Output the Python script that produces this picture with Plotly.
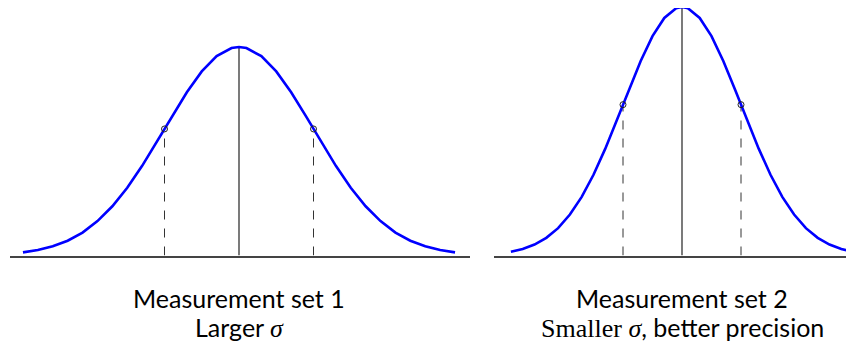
import plotly.graph_objects as go

# curve sample positions (in units of sigma) and relative heights (peak = 1)
x_sigma = [-2.9, -2.7, -2.5, -2.3, -2.1, -1.9, -1.7, -1.5, -1.3, -1.1, -0.9, -0.7, -0.5, -0.3, -0.1, 0.0,
           0.1, 0.3, 0.5, 0.7, 0.9, 1.1, 1.3, 1.5, 1.7, 1.9, 2.1, 2.3, 2.5, 2.7, 2.9]
height = [0.015, 0.026, 0.044, 0.071, 0.110, 0.165, 0.236, 0.325, 0.430, 0.546, 0.667, 0.783, 0.883, 0.956, 0.995, 1.0,
          0.995, 0.956, 0.883, 0.783, 0.667, 0.546, 0.430, 0.325, 0.236, 0.165, 0.110, 0.071, 0.044, 0.026, 0.015]

sigma_points = [-1.0, 1.0]
sigma_height = [0.607, 0.607]
mean_point = [0.0]
mean_height = [1.0]

titles_line1 = ["Measurement set 1", "Measurement set 2"]
titles_line2 = [
    "Larger <i style='font-family:Liberation Serif;font-size:26px'>σ</i>",
    "<span style='font-family:Liberation Serif;font-size:26px'>Smaller <i>σ</i></span>, better precision",
]

W, H = 854, 342
OFF = 8  # page body margin offset
base_px = 255.5 - OFF
panels = [
    dict(center=239 - OFF, sig=74.5, peak=208.5, x0=10 - OFF, x1=470 - OFF),
    dict(center=682 - OFF, sig=59.0, peak=248.5, x0=494 - OFF, x1=854 - OFF),
]

fig = go.Figure()
blue = "#0000ff"
gray = "#333333"
for i, p in enumerate(panels):
    xa = "x" if i == 0 else "x2"
    ya = "y" if i == 0 else "y2"
    fig.add_trace(go.Scatter(x=[mean_point[0], mean_point[0]], y=[0, mean_height[0]], mode="lines",
                             line=dict(color=gray, width=1.3), xaxis=xa, yaxis=ya, showlegend=False, hoverinfo="skip"))
    for sx, sh in zip(sigma_points, sigma_height):
        fig.add_trace(go.Scatter(x=[sx, sx], y=[0, sh], mode="lines",
                                 line=dict(color=gray, width=1, dash="dash"), xaxis=xa, yaxis=ya,
                                 showlegend=False, hoverinfo="skip"))
    fig.add_trace(go.Scatter(x=x_sigma, y=height, mode="lines", line=dict(color=blue, width=2.6),
                             xaxis=xa, yaxis=ya, showlegend=False))
    fig.add_trace(go.Scatter(x=sigma_points, y=sigma_height, mode="markers",
                             marker=dict(symbol="circle-open", size=6, color="#222222", line=dict(width=1)),
                             xaxis=xa, yaxis=ya, showlegend=False))

ydom = [(H - base_px) / H, 1.0]
layout = dict(
    width=W, height=H, margin=dict(l=0, r=0, t=0, b=0),
    paper_bgcolor="white", plot_bgcolor="white",
)
for i, p in enumerate(panels):
    xname = "xaxis" if i == 0 else "xaxis2"
    yname = "yaxis" if i == 0 else "yaxis2"
    layout[xname] = dict(
        domain=[max(p["x0"], 0) / W, min(p["x1"], W) / W],
        range=[(max(p["x0"], 0) - p["center"]) / p["sig"], (min(p["x1"], W) - p["center"]) / p["sig"]],
        showgrid=False, zeroline=False, showticklabels=False, ticks="",
        showline=True, linecolor="#444444", linewidth=1.5,
        anchor="y" if i == 0 else "y2",
    )
    layout[yname] = dict(
        domain=ydom, range=[0, base_px / p["peak"]],
        showgrid=False, zeroline=False, showticklabels=False, showline=False,
        anchor="x" if i == 0 else "x2",
    )
fig.update_layout(**layout)

font = dict(family="Lato, Open Sans, sans-serif", size=25, color="black")
for i, p in enumerate(panels):
    fig.add_annotation(x=p["center"] / W, y=(H - (298 - OFF)) / H, xref="paper", yref="paper",
                       text=titles_line1[i], showarrow=False, font=font, xanchor="center", yanchor="middle")
    fig.add_annotation(x=p["center"] / W, y=(H - (327 - OFF)) / H, xref="paper", yref="paper",
                       text=titles_line2[i], showarrow=False, font=font, xanchor="center", yanchor="middle")

fig.write_html("out.html")
